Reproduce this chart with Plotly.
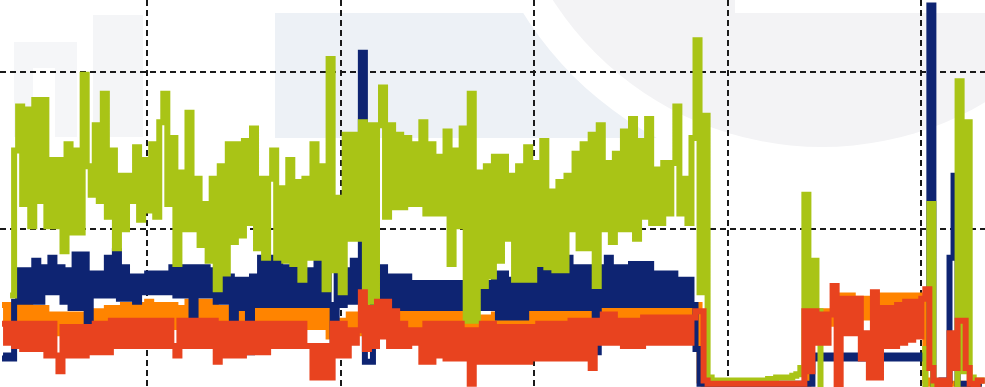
import plotly.graph_objects as go

# Half-hourly samples, hours since start of record
hours = [6 + 0.5 * i for i in range(244)]

green = [
    None, None, 29, 75, 89, 58, 88, 51, 91, 59,
    91, 51, 72, 51, 72, 43, 77, 49, 75, 49,
    99, 70, 61, 83, 59, 93, 54, 75, 44, 67,
    50, 67, 59, 76, 53, 72, 56, 77, 54, 84,
    93, 58, 79, 39, 68, 50, 87, 50, 66, 45,
    58, 40, 66, 31, 70, 36, 77, 46, 77, 48,
    78, 52, 82, 44, 66, 41, 66, 75, 41, 63,
    40, 72, 39, 65, 34, 66, 41, 77, 41, 70,
    31, 104, 37, 60, 30, 80, 47, 80, 47, 84,
    27, 83, 27, 83, 95, 54, 83, 57, 80, 57,
    79, 58, 77, 58, 84, 55, 77, 55, 73, 55,
    81, 39, 75, 51, 82, 21, 93, 21, 68, 32,
    70, 35, 73, 40, 73, 47, 67, 34, 70, 34,
    76, 34, 71, 39, 78, 38, 62, 37, 65, 37,
    67, 50, 74, 44, 77, 44, 80, 32, 83, 50,
    71, 46, 74, 50, 81, 50, 85, 47, 78, 54,
    85, 52, 69, 52, 71, 55, 71, 89, 55, 66,
    52, 79, 110, 30, 86, 3, 2, 2, 2, 2,
    2, 2, 2, 1.5, 2, 2, 2, 2, 2, 2,
    2.5, 2.5, 3, 3, 3, 3, 3.5, 4, 6, 61,
    20, 40, 24, -5, -5, -5, -5, -5, -5, -5,
    -5, -5, -5, -5, -5, -5, -5, -5, -5, -5,
    -5, -5, -5, -5, -5, -5, -5, -5, -5, 12,
    58, -5, -5, -5, -5, -5, -5, 97, 5, 84,
    3, 2, 2, 3,
]

blue = [
    9, 10, 9, 27, 37, 27, 37, 27, 40, 27,
    38, 30, 41, 30, 38, 27, 37, 25, 42, 25,
    42, 20, 36, 29, 36, 29, 41, 29, 43, 28,
    38, 28, 35, 27, 35, 30, 36, 30, 36, 30,
    36, 30, 38, 29, 38, 29, 38, 15, 38, 29,
    38, 29, 37, 27, 35, 27, 35, 20, 34, 25,
    34, 11, 35, 26, 41, 26, 41, 26, 41, 26,
    38, 26, 38, 26, 37, 26, 37, 26, 41, 26,
    41, 26, 14, 37, 26, 37, 27, 40, 27, 106,
    8, 8, 38, 25, 38, 25, 35, 25, 35, 25,
    35, 25, 33, 25, 33, 25, 33, 25, 33, 25,
    33, 25, 33, 25, 33, 25, 32, 25, 32, 25,
    33, 25, 36, 22, 36, 22, 34, 22, 34, 22,
    34, 25, 38, 25, 38, 25, 38, 25, 41, 25,
    41, 25, 38, 25, 38, 25, 38, 11, 38, 26,
    41, 26, 38, 26, 38, 26, 39, 26, 39, 26,
    39, 26, 36, 26, 36, 26, 36, 26, 34, 26,
    34, 26, 12, 1, 1, 1, 1, 1, 1, 1,
    1, 1, 1, 1, 1, 1, 1, 1, 1, 1,
    1, 1, 1, 1, 1, 1, 1, 1, 1, 1,
    1, 10, 9, 10, 9, 10, 9, 10, 9, 10,
    9, 10, 9, 10, 9, 10, 9, 10, 9, 10,
    9, 10, 9, 10, 9, 10, 9, 10, 9, 9,
    121, 1, 1, 2, 2, 41, 67, 1, 1, 1,
    1, 1, 1, 1,
]

orange = [
    26, 20, 26, 20, 26, 20, 26, 19, 25, 19,
    25, 18, 23, 17, 23, 17, 23, 17, 23, 17,
    23, 17, 24, 18, 24, 19, 25, 19, 25, 20,
    26, 20, 26, 20, 26, 21, 27, 21, 26, 20,
    26, 20, 26, 19, 25, 19, 27, 21, 27, 21,
    27, 21, 27, 20, 25, 19, 25, 19, 25, 19,
    25, 19, 25, 19, 25, 19, 25, 19, 25, 19,
    25, 19, 25, 19, 25, 19, 25, 19, 25, 19,
    25, 16, 21, 15, 21, 17, 23, 17, 23, 17,
    27, 21, 27, 20, 24, 18, 24, 18, 24, 18,
    24, 18, 24, 18, 24, 18, 24, 18, 24, 18,
    24, 18, 24, 18, 24, 16, 21, 15, 22, 16,
    22, 16, 23, 17, 23, 17, 23, 17, 23, 18,
    25, 19, 25, 19, 25, 19, 25, 19, 25, 19,
    25, 19, 26, 20, 26, 20, 26, 20, 26, 20,
    26, 20, 26, 20, 26, 20, 26, 20, 26, 20,
    26, 20, 26, 20, 26, 20, 26, 20, 26, 20,
    26, 20, 26, 2, 1, 1, 1, 1, 1, 1,
    1, 1, 1, 1, 1, 1, 1, 1, 1, 1,
    1, 1, 1, 1, 1, 1, 1, 1, 1, 1,
    24, 20, 24, 20, 24, 20, 24, 22, 29, 23,
    29, 23, 28, 22, 28, 22, 28, 22, 29, 23,
    29, 23, 29, 23, 29, 23, 29, 23, 29, 2,
    1, 1, 1, 1, 1, 1, 1, 1, 1, 1,
    1, 1, 1, 1,
]

red = [
    20, 14, 20, 13, 20, 12, 20, 12, 20, 12,
    20, 10, 20, 10, 5, 19, 10, 19, 10, 19,
    10, 19, 11, 20, 11, 20, 11, 21, 13, 21,
    13, 21, 13, 21, 13, 21, 13, 21, 13, 21,
    13, 21, 13, 10, 21, 13, 21, 13, 21, 13,
    21, 13, 21, 8, 20, 10, 20, 10, 20, 10,
    20, 11, 20, 11, 20, 11, 20, 13, 20, 13,
    20, 13, 20, 13, 20, 13, 13, 3, 13, 3,
    13, 3, 20, 10, 20, 10, 18, 14, 18, 30,
    12, 25, 13, 27, 16, 27, 13, 24, 13, 20,
    13, 18, 14, 18, 8, 20, 8, 20, 10, 20,
    9, 20, 9, 20, 9, 18, 1, 18, 8, 20,
    8, 20, 8, 19, 8, 19, 8, 19, 8, 19,
    8, 19, 9, 20, 9, 20, 9, 20, 9, 20,
    9, 21, 9, 21, 9, 21, 6, 21, 14, 23,
    14, 23, 14, 21, 13, 21, 13, 21, 13, 22,
    14, 22, 14, 22, 14, 22, 14, 22, 14, 22,
    14, 22, 24, 24, 2, 1, 1, 1, 1, 1,
    1, 1, 1, 1, 1, 1, 1, 1, 1, 1,
    1, 1, 1, 1, 1, 1, 1, 1, 1, 24,
    5, 24, 14, 23, 14, 23, 32, 0, 28, 17,
    28, 17, 28, 9, 17, 3, 30, 3, 25, 13,
    25, 13, 26, 14, 27, 15, 27, 16, 28, 31,
    6, 2, 0, 2, 0, 17, 6, 21, 21, 6,
    1, 0, 2, 1,
]

for s in (green, blue, orange, red):
    assert len(s) == len(hours), len(s)

W, H = 985, 387

series = [
    ("Orange", orange, "#FF8400"),
    ("Blue", blue, "#0E2472"),
    ("Green", green, "#A9C416"),
    ("Red", red, "#E8431F"),
]

fig = go.Figure()
for name, vals, col in series:
    fig.add_trace(go.Scatter(
        x=hours, y=vals, name=name, mode="lines",
        line=dict(color=col, width=6, shape="hv"),
        showlegend=False, hoverinfo="skip",
    ))


def px_rect(x0, y0, x1, y1, color):
    return dict(type="rect", xref="paper", yref="paper", layer="below",
                x0=x0 / W, x1=x1 / W, y0=1 - y1 / H, y1=1 - y0 / H,
                fillcolor=color, line=dict(width=0))


def px_circle(cx, cy, r, color):
    return dict(type="circle", xref="paper", yref="paper", layer="below",
                x0=(cx - r) / W, x1=(cx + r) / W,
                y0=1 - (cy + r) / H, y1=1 - (cy - r) / H,
                fillcolor=color, line=dict(width=0))


# faint background watermark
shapes = [
    px_rect(14, 42, 77, 137, "#F5F6F8"),
    px_rect(33, 68, 55, 137, "#FFFFFF"),
    px_rect(93, 15, 143, 137, "#F4F5F7"),
    px_rect(275, 13, 985, 138, "#EDF1F6"),
    px_circle(822, -173, 352, "#FFFFFF"),
    px_circle(822, -173, 320, "#F3F3F5"),
    px_rect(735, 0, 985, 13, "#FFFFFF"),
]

grid = dict(showgrid=True, gridcolor="#1a1a1a", gridwidth=2, griddash="6px,4px",
            zeroline=False, showline=False, showticklabels=False, ticks="")

fig.update_layout(
    width=W, height=H,
    margin=dict(l=0, r=0, t=0, b=0),
    paper_bgcolor="white", plot_bgcolor="white",
    shapes=shapes,
    xaxis=dict(range=[5.75, 127.9], tick0=0, dtick=24, **grid),
    yaxis=dict(range=[-0.03, 122.75], tickmode="array", tickvals=[50, 100], **grid),
    showlegend=False,
)

fig.write_html("out.html")
